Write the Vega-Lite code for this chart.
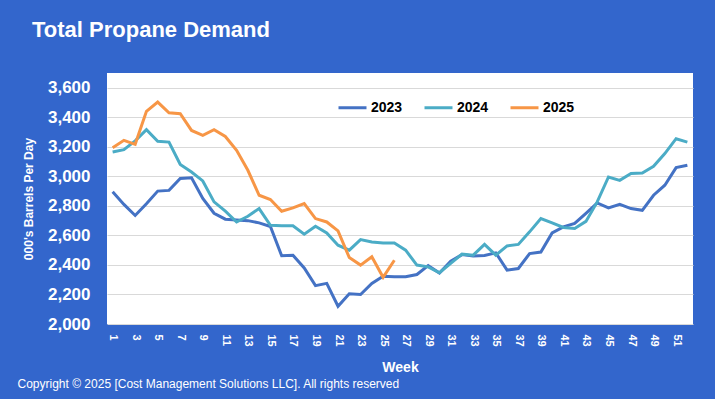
{
  "$schema": "https://vega.github.io/schema/vega-lite/v6.json",
  "width": 586,
  "height": 251,
  "autosize": {"type": "none"},
  "padding": {"left": 107, "top": 73, "right": 22, "bottom": 75},
  "background": "#3366CC",
  "title": {
    "text": "Total Propane Demand",
    "anchor": "start",
    "frame": "group",
    "dx": -75,
    "offset": 31,
    "color": "white",
    "fontSize": 22,
    "fontWeight": "bold",
    "font": "Liberation Sans"
  },
  "datasets": {
    "demand": [
      {"week": 1, "year": "2023", "value": 2895}, {"week": 2, "year": "2023", "value": 2810}, {"week": 3, "year": "2023", "value": 2735}, {"week": 4, "year": "2023", "value": 2815},
      {"week": 5, "year": "2023", "value": 2900}, {"week": 6, "year": "2023", "value": 2905}, {"week": 7, "year": "2023", "value": 2985}, {"week": 8, "year": "2023", "value": 2990},
      {"week": 9, "year": "2023", "value": 2850}, {"week": 10, "year": "2023", "value": 2750}, {"week": 11, "year": "2023", "value": 2710}, {"week": 12, "year": "2023", "value": 2705},
      {"week": 13, "year": "2023", "value": 2700}, {"week": 14, "year": "2023", "value": 2685}, {"week": 15, "year": "2023", "value": 2660}, {"week": 16, "year": "2023", "value": 2462},
      {"week": 17, "year": "2023", "value": 2466}, {"week": 18, "year": "2023", "value": 2380}, {"week": 19, "year": "2023", "value": 2260}, {"week": 20, "year": "2023", "value": 2275},
      {"week": 21, "year": "2023", "value": 2120}, {"week": 22, "year": "2023", "value": 2205}, {"week": 23, "year": "2023", "value": 2200}, {"week": 24, "year": "2023", "value": 2275},
      {"week": 25, "year": "2023", "value": 2324}, {"week": 26, "year": "2023", "value": 2320}, {"week": 27, "year": "2023", "value": 2320}, {"week": 28, "year": "2023", "value": 2335},
      {"week": 29, "year": "2023", "value": 2395}, {"week": 30, "year": "2023", "value": 2345}, {"week": 31, "year": "2023", "value": 2425}, {"week": 32, "year": "2023", "value": 2470},
      {"week": 33, "year": "2023", "value": 2460}, {"week": 34, "year": "2023", "value": 2464}, {"week": 35, "year": "2023", "value": 2482}, {"week": 36, "year": "2023", "value": 2365},
      {"week": 37, "year": "2023", "value": 2376}, {"week": 38, "year": "2023", "value": 2477}, {"week": 39, "year": "2023", "value": 2487}, {"week": 40, "year": "2023", "value": 2617},
      {"week": 41, "year": "2023", "value": 2658}, {"week": 42, "year": "2023", "value": 2681}, {"week": 43, "year": "2023", "value": 2750}, {"week": 44, "year": "2023", "value": 2820},
      {"week": 45, "year": "2023", "value": 2786}, {"week": 46, "year": "2023", "value": 2811}, {"week": 47, "year": "2023", "value": 2782}, {"week": 48, "year": "2023", "value": 2770},
      {"week": 49, "year": "2023", "value": 2872}, {"week": 50, "year": "2023", "value": 2940}, {"week": 51, "year": "2023", "value": 3059}, {"week": 52, "year": "2023", "value": 3075},
      {"week": 1, "year": "2024", "value": 3165}, {"week": 2, "year": "2024", "value": 3181}, {"week": 3, "year": "2024", "value": 3240}, {"week": 4, "year": "2024", "value": 3316},
      {"week": 5, "year": "2024", "value": 3237}, {"week": 6, "year": "2024", "value": 3232}, {"week": 7, "year": "2024", "value": 3081}, {"week": 8, "year": "2024", "value": 3029},
      {"week": 9, "year": "2024", "value": 2969}, {"week": 10, "year": "2024", "value": 2827}, {"week": 11, "year": "2024", "value": 2765}, {"week": 12, "year": "2024", "value": 2691},
      {"week": 13, "year": "2024", "value": 2730}, {"week": 14, "year": "2024", "value": 2782}, {"week": 15, "year": "2024", "value": 2669}, {"week": 16, "year": "2024", "value": 2665},
      {"week": 17, "year": "2024", "value": 2665}, {"week": 18, "year": "2024", "value": 2608}, {"week": 19, "year": "2024", "value": 2662}, {"week": 20, "year": "2024", "value": 2617},
      {"week": 21, "year": "2024", "value": 2534}, {"week": 22, "year": "2024", "value": 2500}, {"week": 23, "year": "2024", "value": 2572}, {"week": 24, "year": "2024", "value": 2556},
      {"week": 25, "year": "2024", "value": 2549}, {"week": 26, "year": "2024", "value": 2549}, {"week": 27, "year": "2024", "value": 2500}, {"week": 28, "year": "2024", "value": 2399},
      {"week": 29, "year": "2024", "value": 2387}, {"week": 30, "year": "2024", "value": 2347}, {"week": 31, "year": "2024", "value": 2410}, {"week": 32, "year": "2024", "value": 2473},
      {"week": 33, "year": "2024", "value": 2466}, {"week": 34, "year": "2024", "value": 2539}, {"week": 35, "year": "2024", "value": 2466}, {"week": 36, "year": "2024", "value": 2529},
      {"week": 37, "year": "2024", "value": 2539}, {"week": 38, "year": "2024", "value": 2624}, {"week": 39, "year": "2024", "value": 2714}, {"week": 40, "year": "2024", "value": 2685},
      {"week": 41, "year": "2024", "value": 2654}, {"week": 42, "year": "2024", "value": 2647}, {"week": 43, "year": "2024", "value": 2695}, {"week": 44, "year": "2024", "value": 2827},
      {"week": 45, "year": "2024", "value": 2996}, {"week": 46, "year": "2024", "value": 2973}, {"week": 47, "year": "2024", "value": 3019}, {"week": 48, "year": "2024", "value": 3023},
      {"week": 49, "year": "2024", "value": 3068}, {"week": 50, "year": "2024", "value": 3154}, {"week": 51, "year": "2024", "value": 3255}, {"week": 52, "year": "2024", "value": 3232},
      {"week": 1, "year": "2025", "value": 3194}, {"week": 2, "year": "2025", "value": 3244}, {"week": 3, "year": "2025", "value": 3217}, {"week": 4, "year": "2025", "value": 3440},
      {"week": 5, "year": "2025", "value": 3503}, {"week": 6, "year": "2025", "value": 3431}, {"week": 7, "year": "2025", "value": 3424}, {"week": 8, "year": "2025", "value": 3311},
      {"week": 9, "year": "2025", "value": 3278}, {"week": 10, "year": "2025", "value": 3316}, {"week": 11, "year": "2025", "value": 3270}, {"week": 12, "year": "2025", "value": 3176},
      {"week": 13, "year": "2025", "value": 3041}, {"week": 14, "year": "2025", "value": 2872}, {"week": 15, "year": "2025", "value": 2843}, {"week": 16, "year": "2025", "value": 2764},
      {"week": 17, "year": "2025", "value": 2786}, {"week": 18, "year": "2025", "value": 2816}, {"week": 19, "year": "2025", "value": 2714}, {"week": 20, "year": "2025", "value": 2691},
      {"week": 21, "year": "2025", "value": 2631}, {"week": 22, "year": "2025", "value": 2450}, {"week": 23, "year": "2025", "value": 2399}, {"week": 24, "year": "2025", "value": 2455},
      {"week": 25, "year": "2025", "value": 2316}, {"week": 26, "year": "2025", "value": 2432}
    ]
  },
  "data": {"name": "demand"},
  "layer": [
    {
      "mark": {"type": "line", "strokeWidth": 3},
      "encoding": {
        "x": {
          "field": "week",
          "type": "quantitative",
          "scale": {"domain": [0.5, 52.5], "nice": false, "zero": false},
          "axis": {
            "orient": "bottom",
            "values": [1, 3, 5, 7, 9, 11, 13, 15, 17, 19, 21, 23, 25, 27, 29, 31, 33, 35, 37, 39, 41, 43, 45, 47, 49, 51],
            "title": "Week",
            "labelAngle": 90,
            "labelColor": "white",
            "labelFont": "Liberation Sans",
            "labelFontSize": 11,
            "labelFontWeight": "bold",
            "labelPadding": 10,
            "labelFlush": false,
            "labelOverlap": false,
            "ticks": false,
            "domain": false,
            "grid": false,
            "titleColor": "white",
            "titleFont": "Liberation Sans",
            "titleFontSize": 14,
            "titleFontWeight": "bold",
            "titlePadding": 14
          }
        },
        "y": {
          "field": "value",
          "type": "quantitative",
          "scale": {"domain": [2000, 3700], "nice": false, "zero": false},
          "axis": {
            "values": [2000, 2200, 2400, 2600, 2800, 3000, 3200, 3400, 3600],
            "format": ",d",
            "title": "000's Barrels Per Day",
            "labelColor": "white",
            "labelFont": "Liberation Sans",
            "labelFontSize": 17,
            "labelFontWeight": "bold",
            "labelPadding": 17,
            "labelOverlap": false,
            "labelFlush": false,
            "ticks": false,
            "domain": false,
            "grid": true,
            "gridColor": "#d9d9d9",
            "gridWidth": 1,
            "titleColor": "white",
            "titleFont": "Liberation Sans",
            "titleFontSize": 12,
            "titleFontWeight": "bold",
            "titlePadding": 12
          }
        },
        "color": {
          "field": "year",
          "type": "nominal",
          "scale": {"domain": ["2023", "2024", "2025"], "range": ["#4472C4", "#4BACC6", "#F79646"]},
          "legend": {
            "orient": "none",
            "legendX": 230,
            "legendY": 19,
            "direction": "horizontal",
            "title": null,
            "symbolType": "stroke",
            "symbolSize": 784,
            "symbolStrokeWidth": 3,
            "labelFont": "Liberation Sans",
            "labelFontSize": 14,
            "labelFontWeight": "bold",
            "labelColor": "black",
            "labelOffset": 3,
            "columnPadding": 15
          }
        }
      }
    },
    {
      "mark": {"type": "point", "opacity": 0},
      "encoding": {
        "x": {
          "field": "week",
          "type": "quantitative",
          "axis": {
            "orient": "bottom",
            "labels": false,
            "ticks": false,
            "domain": false,
            "grid": false,
            "title": "Copyright © 2025 [Cost Management Solutions LLC].  All rights reserved",
            "titleAnchor": "start",
            "titleAlign": "left",
            "titleAngle": 0,
            "titleX": -90,
            "titleY": 63,
            "titleLimit": 1000,
            "titleBaseline": "alphabetic",
            "titleColor": "white",
            "titleFont": "Liberation Sans",
            "titleFontSize": 12,
            "titleFontWeight": "normal"
          }
        }
      }
    }
  ],
  "resolve": {"axis": {"x": "independent"}},
  "config": {
    "view": {"fill": "white", "stroke": null}
  }
}
